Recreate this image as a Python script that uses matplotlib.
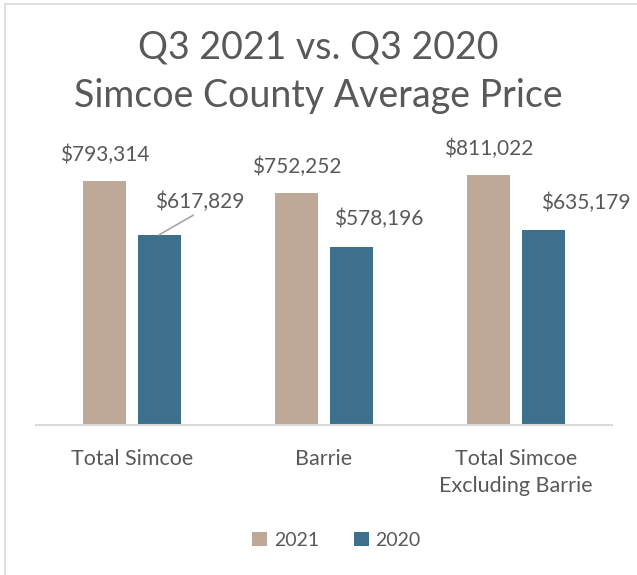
import matplotlib.pyplot as plt
import numpy as np

# data
categories = ['Total Simcoe', 'Barrie', 'Total Simcoe\nExcluding Barrie']
years = ['2021', '2020']
price_2021 = [793314, 752252, 811022]
price_2020 = [617829, 578196, 635179]

c2021 = '#BEA898'
c2020 = '#3E708C'
txt = '#595959'

plt.rcParams['font.family'] = ['Lato', 'DejaVu Sans']

fig = plt.figure(figsize=(6.37, 5.75), dpi=100)
ax = fig.add_axes([36/637, 150/575, 576/637, 277/575])

x = np.arange(len(categories))
w = 0.224
off = 0.141
b1 = ax.bar(x - off, price_2021, w, color=c2021, label=years[0])
b2 = ax.bar(x + off, price_2020, w, color=c2020, label=years[1])

ax.set_xlim(-0.5, len(categories) - 0.5)
ax.set_ylim(0, 900000)
ax.set_yticks([])
for s in ['left', 'right', 'top']:
    ax.spines[s].set_visible(False)
ax.spines['bottom'].set_color('#D9D9D9')
ax.spines['bottom'].set_linewidth(1.5)
ax.set_xticks(x)
ax.set_xticklabels(categories, fontsize=15.5, color=txt, linespacing=1.44, va='top')
ax.tick_params(axis='x', length=0, pad=17.5)

# labels for 2021, centred above bars
for xi, v in zip(x, price_2021):
    ax.annotate('${:,}'.format(v), (xi - off, v), xytext=(0, 19),
                textcoords='offset points', ha='center', va='center',
                fontsize=15, color=txt)

# labels for 2020 sit to the right
offs_2020 = [(29, 24), (20, 20), (31, 19)]
for i, (xi, v) in enumerate(zip(x, price_2020)):
    dx, dy = offs_2020[i]
    if i == 0:
        ax.annotate('${:,}'.format(v), (xi + off, v), xytext=(dx, dy),
                    textcoords='offset points', ha='center', va='center',
                    fontsize=15, color=txt,
                    arrowprops=dict(arrowstyle='-', color='#A6A6A6', lw=1.2,
                                    relpos=(0.5, 0.0), shrinkA=1, shrinkB=0))
    else:
        ax.annotate('${:,}'.format(v), (xi + off, v), xytext=(dx, dy),
                    textcoords='offset points', ha='center', va='center',
                    fontsize=15, color=txt)

fig.text(0.5, 1 - 48/575, 'Q3 2021 vs. Q3 2020', ha='center', va='center',
         fontsize=27, color=txt)
fig.text(0.5, 1 - 96/575, 'Simcoe County Average Price', ha='center', va='center',
         fontsize=27, color=txt)

fig.legend(handles=[b1, b2], labels=years, loc='center', bbox_to_anchor=(336.5/637, 1 - 540/575),
           ncol=2, frameon=False, fontsize=14, labelcolor=txt,
           handlelength=0.75, handleheight=0.75, handletextpad=0.35, columnspacing=1.8)

# outer chart border
fig.add_artist(plt.Line2D([5/637, 5/637], [0, 1 - 4/575], color='#D9D9D9', lw=1.2))
fig.add_artist(plt.Line2D([5/637, 1], [1 - 4/575, 1 - 4/575], color='#D9D9D9', lw=1.2))

fig.savefig('out.png', dpi=100)
